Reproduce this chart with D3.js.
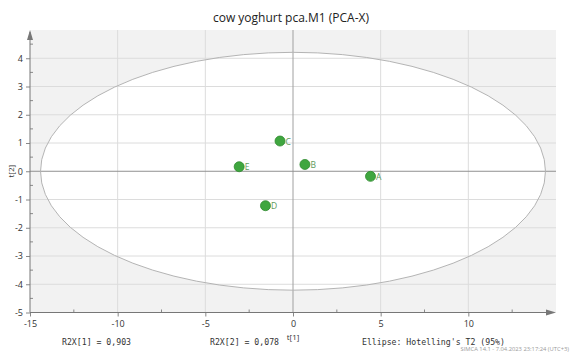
<!DOCTYPE html>
<html><head><meta charset="utf-8">
<script src="https://cdn.jsdelivr.net/npm/d3@7"></script>
<style>body{margin:0;background:#fff}svg{display:block}</style>
</head><body>
<svg id="c" width="570" height="353"></svg>
<script>
const obsNames = ["A","B","C","D","E"];
const t1 = [4.42, 0.68, -0.74, -1.57, -3.07];
const t2 = [-0.18, 0.24, 1.07, -1.22, 0.16];
const xTicks = [-15,-10,-5,0,5,10];
const yTicks = [-5,-4,-3,-2,-1,0,1,2,3,4];
const ellipseAxes = [14.4, 4.21];
const title = "cow yoghurt pca.M1 (PCA-X)";
const footTexts = ["R2X[1] = 0,903","R2X[2] = 0,078","Ellipse: Hotelling's T2 (95%)"];
const stamp = "SIMCA 14.1 - 7.04.2023 23:17:24 (UTC+3)";

const svg = d3.select("#c");
const L=30, R=556, T=30, B=312.5;
const x = d3.scaleLinear().domain([-15,15]).range([L,R]);
const y = d3.scaleLinear().domain([-5,5]).range([B,T]);
const font = "'Open Sans','Noto Sans',sans-serif";

svg.append("text").attr("x",291).attr("y",22).attr("text-anchor","middle")
  .attr("font-family",font).attr("font-size",12).attr("fill","#222").text(title);

svg.append("rect").attr("x",L).attr("y",T).attr("width",R-L).attr("height",B-T).attr("fill","#f2f2f2");
svg.append("ellipse").attr("cx",x(0)).attr("cy",y(0))
  .attr("rx",x(ellipseAxes[0])-x(0)).attr("ry",y(0)-y(ellipseAxes[1]))
  .attr("fill","#fff");

// grid
const g = svg.append("g");
xTicks.filter(d=>d!==0 && d!==-15).forEach(d=>{
  g.append("line").attr("x1",x(d)).attr("x2",x(d)).attr("y1",T).attr("y2",B).attr("stroke","#dcdcdc");
});
yTicks.filter(d=>d!==0 && d!==-5).forEach(d=>{
  g.append("line").attr("x1",L).attr("x2",R).attr("y1",y(d)).attr("y2",y(d)).attr("stroke","#dcdcdc");
});
svg.append("ellipse").attr("cx",x(0)).attr("cy",y(0))
  .attr("rx",x(ellipseAxes[0])-x(0)).attr("ry",y(0)-y(ellipseAxes[1]))
  .attr("fill","none").attr("stroke","#b4b4b4").attr("stroke-width",1);
// zero lines
g.append("line").attr("x1",x(0)).attr("x2",x(0)).attr("y1",T).attr("y2",B).attr("stroke","#a0a0a0");
g.append("line").attr("x1",L).attr("x2",R).attr("y1",y(0)).attr("y2",y(0)).attr("stroke","#909090");

// axes
const axX = d3.axisBottom(x).tickValues(xTicks).tickSize(4).tickFormat(d=>d);
const gx = svg.append("g").attr("transform",`translate(0,${B})`).call(axX);
gx.select(".domain").remove();
gx.selectAll("line").attr("stroke","#888");
gx.selectAll("text").attr("font-family",font).attr("font-size",9).attr("fill","#333").attr("dy","0.85em");
const minorX = d3.range(-12.5,15,5);
gx.selectAll(".mx").data(minorX).enter().append("line")
  .attr("x1",d=>x(d)).attr("x2",d=>x(d)).attr("y1",0).attr("y2",-3).attr("stroke","#888");

const axY = d3.axisLeft(y).tickValues(yTicks).tickSize(4).tickFormat(d=>d);
const gy = svg.append("g").attr("transform",`translate(${L},0)`).call(axY);
gy.select(".domain").remove();
gy.selectAll("line").attr("stroke","#888");
gy.selectAll("text").attr("font-family",font).attr("font-size",9).attr("fill","#333");
const minorY = d3.range(-4.5,5,1);
gy.selectAll(".my").data(minorY).enter().append("line")
  .attr("x1",0).attr("x2",3).attr("y1",d=>y(d)).attr("y2",d=>y(d)).attr("stroke","#888");

// axis lines with arrows
svg.append("line").attr("x1",L).attr("x2",R-2).attr("y1",B).attr("y2",B).attr("stroke","#777");
svg.append("path").attr("d",`M${R},${B} L${R-10},${B-3} L${R-10},${B+3}Z`).attr("fill","#777");
svg.append("line").attr("x1",L).attr("x2",L).attr("y1",B).attr("y2",T+2).attr("stroke","#777");
svg.append("path").attr("d",`M${L},${T} L${L-3},${T+10} L${L+3},${T+10}Z`).attr("fill","#777");

// axis titles
svg.append("text").attr("x",x(0)).attr("y",340).attr("text-anchor","middle")
  .attr("font-family",font).attr("font-size",8).attr("fill","#333").text("t[1]");
svg.append("text").attr("transform",`translate(14,${y(0)}) rotate(-90)`).attr("text-anchor","middle")
  .attr("font-family",font).attr("font-size",8).attr("fill","#333").text("t[2]");

// points
const pts = obsNames.map((n,i)=>({n, a:t1[i], b:t2[i]}));
svg.selectAll(".pt").data(pts).enter().append("circle")
  .attr("cx",d=>x(d.a)).attr("cy",d=>y(d.b)).attr("r",5)
  .attr("fill","#3fa63f").attr("stroke","#2e8a2e").attr("stroke-width",0.8);
svg.selectAll(".lb").data(pts).enter().append("text")
  .attr("x",d=>x(d.a)+5.5).attr("y",d=>y(d.b)+3.5)
  .attr("font-family",font).attr("font-size",8.5).attr("fill","#5c9a5c").text(d=>d.n);

// footer
const footX = [62, 210, 362];
footTexts.forEach((t,i)=>{
  svg.append("text").attr("x",footX[i]).attr("y",345)
    .attr("font-family","'DejaVu Sans Mono',monospace").attr("font-size",8.2).attr("fill","#333").text(t);
});
svg.append("text").attr("x",569).attr("y",351.2).attr("text-anchor","end")
  .attr("font-family",font).attr("font-size",5.8).attr("fill","#9a9a9a").text(stamp);
</script>
</body></html>
